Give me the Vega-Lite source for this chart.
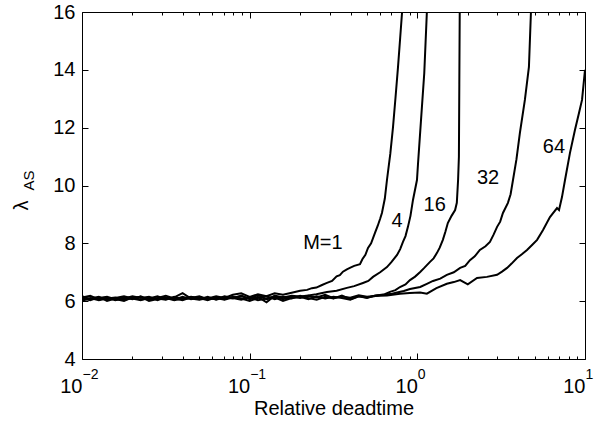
{
  "$schema": "https://vega.github.io/schema/vega-lite/v6.json",
  "width": 503,
  "height": 347,
  "autosize": {"type": "none"},
  "padding": {"left": 82, "top": 12, "right": 25, "bottom": 63},
  "background": "white",
  "config": {
    "view": {"stroke": "black", "strokeWidth": 1},
    "axis": {"grid": false, "domain": false, "labelFont": "Liberation Sans", "titleFont": "Liberation Sans", "labelColor": "black", "titleColor": "black", "tickColor": "black", "tickWidth": 1, "titleFontWeight": "normal", "labelFlush": false, "labelOverlap": false, "labelBound": false},
    "text": {"font": "Liberation Sans"}
  },
  "data": {"values": [
    {"M":"1","x":0.01,"y":6.13},{"M":"1","x":0.0112,"y":6.19},{"M":"1","x":0.0126,"y":6.06},{"M":"1","x":0.0141,"y":6.12},{"M":"1","x":0.0158,"y":6.03},{"M":"1","x":0.0178,"y":6.09},{"M":"1","x":0.02,"y":6.17},{"M":"1","x":0.0224,"y":6.11},{"M":"1","x":0.0251,"y":6.15},{"M":"1","x":0.0282,"y":6.03},{"M":"1","x":0.0316,"y":6.13},{"M":"1","x":0.0355,"y":6.05},{"M":"1","x":0.0398,"y":6.15},{"M":"1","x":0.0447,"y":6.07},{"M":"1","x":0.0501,"y":6.13},{"M":"1","x":0.0562,"y":6.09},{"M":"1","x":0.0631,"y":6.17},{"M":"1","x":0.0708,"y":6.11},{"M":"1","x":0.0794,"y":6.22},{"M":"1","x":0.0891,"y":6.27},{"M":"1","x":0.1,"y":6.15},{"M":"1","x":0.112,"y":6.24},{"M":"1","x":0.126,"y":6.17},{"M":"1","x":0.141,"y":6.27},{"M":"1","x":0.158,"y":6.22},{"M":"1","x":0.178,"y":6.29},{"M":"1","x":0.2,"y":6.36},{"M":"1","x":0.22,"y":6.39},{"M":"1","x":0.235,"y":6.45},{"M":"1","x":0.25,"y":6.47},{"M":"1","x":0.27,"y":6.56},{"M":"1","x":0.289,"y":6.63},{"M":"1","x":0.31,"y":6.7},{"M":"1","x":0.33,"y":6.86},{"M":"1","x":0.345,"y":6.9},{"M":"1","x":0.36,"y":7.02},{"M":"1","x":0.38,"y":7.1},{"M":"1","x":0.396,"y":7.15},{"M":"1","x":0.42,"y":7.22},{"M":"1","x":0.455,"y":7.28},{"M":"1","x":0.47,"y":7.45},{"M":"1","x":0.49,"y":7.6},{"M":"1","x":0.508,"y":7.84},{"M":"1","x":0.53,"y":8.0},{"M":"1","x":0.559,"y":8.36},{"M":"1","x":0.58,"y":8.6},{"M":"1","x":0.6,"y":8.85},{"M":"1","x":0.615,"y":9.05},{"M":"1","x":0.64,"y":9.55},{"M":"1","x":0.659,"y":10.19},{"M":"1","x":0.69,"y":11.1},{"M":"1","x":0.716,"y":12.02},{"M":"1","x":0.74,"y":13.0},{"M":"1","x":0.767,"y":14.1},{"M":"1","x":0.79,"y":15.1},{"M":"1","x":0.811,"y":16.0},

    {"M":"4","x":0.01,"y":6.05},{"M":"4","x":0.0112,"y":6.09},{"M":"4","x":0.0126,"y":6.15},{"M":"4","x":0.0141,"y":6.01},{"M":"4","x":0.0158,"y":6.09},{"M":"4","x":0.0178,"y":6.13},{"M":"4","x":0.02,"y":6.07},{"M":"4","x":0.0224,"y":6.17},{"M":"4","x":0.0251,"y":6.05},{"M":"4","x":0.0282,"y":6.11},{"M":"4","x":0.0316,"y":6.19},{"M":"4","x":0.0355,"y":6.09},{"M":"4","x":0.0398,"y":6.03},{"M":"4","x":0.0447,"y":6.13},{"M":"4","x":0.0501,"y":6.07},{"M":"4","x":0.0562,"y":6.15},{"M":"4","x":0.0631,"y":6.05},{"M":"4","x":0.0708,"y":6.13},{"M":"4","x":0.0794,"y":6.09},{"M":"4","x":0.0891,"y":6.19},{"M":"4","x":0.1,"y":6.07},{"M":"4","x":0.112,"y":6.15},{"M":"4","x":0.126,"y":5.96},{"M":"4","x":0.141,"y":6.19},{"M":"4","x":0.158,"y":6.13},{"M":"4","x":0.178,"y":6.19},{"M":"4","x":0.2,"y":6.16},{"M":"4","x":0.224,"y":6.2},{"M":"4","x":0.25,"y":6.24},{"M":"4","x":0.289,"y":6.32},{"M":"4","x":0.33,"y":6.36},{"M":"4","x":0.38,"y":6.46},{"M":"4","x":0.42,"y":6.52},{"M":"4","x":0.474,"y":6.63},{"M":"4","x":0.51,"y":6.7},{"M":"4","x":0.544,"y":6.84},{"M":"4","x":0.6,"y":7.0},{"M":"4","x":0.659,"y":7.18},{"M":"4","x":0.7,"y":7.35},{"M":"4","x":0.757,"y":7.6},{"M":"4","x":0.79,"y":7.8},{"M":"4","x":0.821,"y":8.05},{"M":"4","x":0.85,"y":8.25},{"M":"4","x":0.879,"y":8.57},{"M":"4","x":0.91,"y":8.95},{"M":"4","x":0.942,"y":9.5},{"M":"4","x":0.995,"y":10.19},{"M":"4","x":1.01,"y":10.78},{"M":"4","x":1.05,"y":12.2},{"M":"4","x":1.1,"y":13.89},{"M":"4","x":1.14,"y":16.0},

    {"M":"16","x":0.01,"y":6.17},{"M":"16","x":0.0112,"y":6.07},{"M":"16","x":0.0126,"y":6.11},{"M":"16","x":0.0141,"y":6.15},{"M":"16","x":0.0158,"y":6.07},{"M":"16","x":0.0178,"y":6.01},{"M":"16","x":0.02,"y":6.13},{"M":"16","x":0.0224,"y":6.05},{"M":"16","x":0.0251,"y":6.09},{"M":"16","x":0.0282,"y":6.17},{"M":"16","x":0.0316,"y":6.07},{"M":"16","x":0.0355,"y":6.13},{"M":"16","x":0.0398,"y":6.28},{"M":"16","x":0.0447,"y":6.09},{"M":"16","x":0.0501,"y":6.05},{"M":"16","x":0.0562,"y":6.11},{"M":"16","x":0.0631,"y":6.07},{"M":"16","x":0.0708,"y":6.17},{"M":"16","x":0.0794,"y":6.11},{"M":"16","x":0.0891,"y":6.05},{"M":"16","x":0.1,"y":6.13},{"M":"16","x":0.112,"y":6.03},{"M":"16","x":0.126,"y":6.09},{"M":"16","x":0.141,"y":6.17},{"M":"16","x":0.158,"y":6.07},{"M":"16","x":0.178,"y":6.15},{"M":"16","x":0.2,"y":6.11},{"M":"16","x":0.224,"y":6.19},{"M":"16","x":0.251,"y":6.13},{"M":"16","x":0.282,"y":6.22},{"M":"16","x":0.316,"y":6.1},{"M":"16","x":0.355,"y":6.16},{"M":"16","x":0.398,"y":6.12},{"M":"16","x":0.447,"y":6.2},{"M":"16","x":0.501,"y":6.15},{"M":"16","x":0.55,"y":6.18},{"M":"16","x":0.598,"y":6.21},{"M":"16","x":0.64,"y":6.24},{"M":"16","x":0.687,"y":6.32},{"M":"16","x":0.74,"y":6.38},{"M":"16","x":0.788,"y":6.49},{"M":"16","x":0.85,"y":6.58},{"M":"16","x":0.904,"y":6.73},{"M":"16","x":0.97,"y":6.85},{"M":"16","x":1.04,"y":7.01},{"M":"16","x":1.1,"y":7.15},{"M":"16","x":1.19,"y":7.36},{"M":"16","x":1.25,"y":7.48},{"M":"16","x":1.31,"y":7.67},{"M":"16","x":1.36,"y":7.85},{"M":"16","x":1.42,"y":8.12},{"M":"16","x":1.47,"y":8.4},{"M":"16","x":1.52,"y":8.7},{"M":"16","x":1.6,"y":8.95},{"M":"16","x":1.68,"y":9.15},{"M":"16","x":1.72,"y":9.4},{"M":"16","x":1.75,"y":10.19},{"M":"16","x":1.77,"y":11.0},{"M":"16","x":1.78,"y":13.5},{"M":"16","x":1.79,"y":16.0},

    {"M":"32","x":0.01,"y":6.01},{"M":"32","x":0.0112,"y":6.11},{"M":"32","x":0.0126,"y":6.03},{"M":"32","x":0.0141,"y":6.09},{"M":"32","x":0.0158,"y":6.13},{"M":"32","x":0.0178,"y":6.05},{"M":"32","x":0.02,"y":6.11},{"M":"32","x":0.0224,"y":6.15},{"M":"32","x":0.0251,"y":6.01},{"M":"32","x":0.0282,"y":6.07},{"M":"32","x":0.0316,"y":6.11},{"M":"32","x":0.0355,"y":6.03},{"M":"32","x":0.0398,"y":6.09},{"M":"32","x":0.0447,"y":6.15},{"M":"32","x":0.0501,"y":6.11},{"M":"32","x":0.0562,"y":6.03},{"M":"32","x":0.0631,"y":6.13},{"M":"32","x":0.0708,"y":6.07},{"M":"32","x":0.0794,"y":6.15},{"M":"32","x":0.0891,"y":6.09},{"M":"32","x":0.1,"y":6.01},{"M":"32","x":0.112,"y":6.11},{"M":"32","x":0.126,"y":6.17},{"M":"32","x":0.141,"y":6.07},{"M":"32","x":0.158,"y":6.15},{"M":"32","x":0.178,"y":6.09},{"M":"32","x":0.2,"y":6.19},{"M":"32","x":0.224,"y":6.11},{"M":"32","x":0.251,"y":6.05},{"M":"32","x":0.282,"y":6.15},{"M":"32","x":0.316,"y":6.09},{"M":"32","x":0.355,"y":6.19},{"M":"32","x":0.398,"y":6.07},{"M":"32","x":0.447,"y":6.17},{"M":"32","x":0.501,"y":6.11},{"M":"32","x":0.562,"y":6.2},{"M":"32","x":0.631,"y":6.22},{"M":"32","x":0.708,"y":6.26},{"M":"32","x":0.757,"y":6.3},{"M":"32","x":0.83,"y":6.35},{"M":"32","x":0.904,"y":6.42},{"M":"32","x":1.04,"y":6.49},{"M":"32","x":1.14,"y":6.6},{"M":"32","x":1.24,"y":6.7},{"M":"32","x":1.37,"y":6.78},{"M":"32","x":1.5,"y":6.91},{"M":"32","x":1.65,"y":7.0},{"M":"32","x":1.8,"y":7.15},{"M":"32","x":1.93,"y":7.22},{"M":"32","x":2.06,"y":7.42},{"M":"32","x":2.2,"y":7.55},{"M":"32","x":2.36,"y":7.77},{"M":"32","x":2.55,"y":7.9},{"M":"32","x":2.71,"y":8.05},{"M":"32","x":2.85,"y":8.3},{"M":"32","x":2.99,"y":8.57},{"M":"32","x":3.12,"y":8.75},{"M":"32","x":3.24,"y":9.05},{"M":"32","x":3.47,"y":9.4},{"M":"32","x":3.6,"y":9.7},{"M":"32","x":3.72,"y":10.19},{"M":"32","x":3.9,"y":10.9},{"M":"32","x":4.09,"y":11.82},{"M":"32","x":4.38,"y":12.96},{"M":"32","x":4.63,"y":14.1},{"M":"32","x":4.76,"y":16.0},

    {"M":"64","x":0.01,"y":6.09},{"M":"64","x":0.0112,"y":6.03},{"M":"64","x":0.0126,"y":6.13},{"M":"64","x":0.0141,"y":6.07},{"M":"64","x":0.0158,"y":6.11},{"M":"64","x":0.0178,"y":6.17},{"M":"64","x":0.02,"y":6.09},{"M":"64","x":0.0224,"y":6.03},{"M":"64","x":0.0251,"y":6.13},{"M":"64","x":0.0282,"y":6.09},{"M":"64","x":0.0316,"y":6.05},{"M":"64","x":0.0355,"y":6.15},{"M":"64","x":0.0398,"y":6.07},{"M":"64","x":0.0447,"y":6.11},{"M":"64","x":0.0501,"y":6.17},{"M":"64","x":0.0562,"y":6.07},{"M":"64","x":0.0631,"y":6.11},{"M":"64","x":0.0708,"y":6.05},{"M":"64","x":0.0794,"y":6.13},{"M":"64","x":0.0891,"y":6.17},{"M":"64","x":0.1,"y":6.09},{"M":"64","x":0.112,"y":6.21},{"M":"64","x":0.126,"y":6.07},{"M":"64","x":0.141,"y":6.13},{"M":"64","x":0.158,"y":6.01},{"M":"64","x":0.178,"y":6.11},{"M":"64","x":0.2,"y":6.15},{"M":"64","x":0.224,"y":6.07},{"M":"64","x":0.251,"y":6.17},{"M":"64","x":0.282,"y":6.09},{"M":"64","x":0.316,"y":6.15},{"M":"64","x":0.355,"y":6.11},{"M":"64","x":0.398,"y":6.05},{"M":"64","x":0.447,"y":6.17},{"M":"64","x":0.501,"y":6.13},{"M":"64","x":0.562,"y":6.18},{"M":"64","x":0.6,"y":6.19},{"M":"64","x":0.659,"y":6.2},{"M":"64","x":0.788,"y":6.26},{"M":"64","x":0.9,"y":6.28},{"M":"64","x":1.04,"y":6.3},{"M":"64","x":1.14,"y":6.26},{"M":"64","x":1.3,"y":6.45},{"M":"64","x":1.5,"y":6.6},{"M":"64","x":1.65,"y":6.66},{"M":"64","x":1.8,"y":6.73},{"M":"64","x":2.0,"y":6.58},{"M":"64","x":2.27,"y":6.8},{"M":"64","x":2.6,"y":6.84},{"M":"64","x":2.99,"y":6.91},{"M":"64","x":3.2,"y":7.02},{"M":"64","x":3.43,"y":7.15},{"M":"64","x":3.65,"y":7.3},{"M":"64","x":3.93,"y":7.49},{"M":"64","x":4.2,"y":7.62},{"M":"64","x":4.51,"y":7.77},{"M":"64","x":4.85,"y":7.95},{"M":"64","x":5.18,"y":8.12},{"M":"64","x":5.62,"y":8.46},{"M":"64","x":6.18,"y":8.91},{"M":"64","x":6.81,"y":9.22},{"M":"64","x":7.0,"y":9.15},{"M":"64","x":7.29,"y":9.6},{"M":"64","x":7.6,"y":10.19},{"M":"64","x":8.13,"y":11.12},{"M":"64","x":8.71,"y":11.92},{"M":"64","x":9.2,"y":12.5},{"M":"64","x":9.6,"y":12.96},{"M":"64","x":10,"y":14.0}
  ]},
  "layer": [
    {
      "mark": {"type": "line", "color": "black", "strokeWidth": 2, "clip": true},
      "encoding": {
        "x": {"field": "x", "type": "quantitative", "scale": {"type": "log", "domain": [0.01, 10], "nice": false},
          "axis": {"orient": "bottom", "values": [0.01, 0.1, 1, 10], "labelExpr": "'10'", "ticks": false, "labelFontSize": 20, "labelAlign": "right", "labelDx": 3, "labelBaseline": "alphabetic", "labelPadding": 33,
            "title": "Relative deadtime", "titleFontSize": 20, "titleBaseline": "alphabetic", "titleY": 55}},
        "y": {"field": "y", "type": "quantitative", "scale": {"domain": [4, 16], "nice": false, "zero": false},
          "axis": {"orient": "left", "values": [4, 6, 8, 10, 12, 14, 16], "ticks": false, "labelFontSize": 20, "labelPadding": 7,
            "title": "λ", "titleFontSize": 20, "titleAngle": 270, "titleBaseline": "alphabetic", "titleAlign": "center", "titleX": -55, "titleY": 193}},
        "detail": {"field": "M"}
      }
    },
    {
      "mark": {"type": "line", "opacity": 0},
      "encoding": {
        "x": {"field": "x", "type": "quantitative",
          "axis": {"orient": "bottom", "values": [0.01, 0.1, 1, 10], "labelExpr": "datum.value < 0.05 ? '−2' : datum.value < 0.5 ? '−1' : datum.value < 5 ? '0' : '1'", "ticks": false, "labelFontSize": 14, "labelAlign": "left", "labelDx": 5, "labelBaseline": "alphabetic", "labelPadding": 19, "title": null}},
        "y": {"field": "y", "type": "quantitative",
          "axis": {"orient": "left", "values": [4], "labels": false, "ticks": false, "title": "AS", "titleFontSize": 15, "titleAngle": 270, "titleBaseline": "alphabetic", "titleAlign": "center", "titleX": -49, "titleY": 168}},
        "detail": {"field": "M"}
      }
    },
    {
      "mark": {"type": "line", "opacity": 0},
      "encoding": {
        "x": {"field": "x", "type": "quantitative",
          "axis": {"orient": "bottom", "values": [0.01, 0.1, 1, 10], "labels": false, "tickSize": -6, "title": null}},
        "y": {"field": "y", "type": "quantitative",
          "axis": {"orient": "left", "values": [4, 6, 8, 10, 12, 14, 16], "labels": false, "tickSize": -6, "title": null}},
        "detail": {"field": "M"}
      }
    },
    {
      "mark": {"type": "line", "opacity": 0},
      "encoding": {
        "x": {"field": "x", "type": "quantitative",
          "axis": {"orient": "top", "values": [0.01, 0.1, 1, 10], "labels": false, "tickSize": -6, "title": null}},
        "y": {"field": "y", "type": "quantitative",
          "axis": {"orient": "right", "values": [4, 6, 8, 10, 12, 14, 16], "labels": false, "tickSize": -6, "title": null}},
        "detail": {"field": "M"}
      }
    },
    {
      "mark": {"type": "line", "opacity": 0},
      "encoding": {
        "x": {"field": "x", "type": "quantitative",
          "axis": {"orient": "bottom", "values": [0.02, 0.03, 0.04, 0.05, 0.06, 0.07, 0.08, 0.09, 0.2, 0.3, 0.4, 0.5, 0.6, 0.7, 0.8, 0.9, 2, 3, 4, 5, 6, 7, 8, 9], "labels": false, "tickSize": -3, "title": null}},
        "y": {"field": "y", "type": "quantitative", "axis": null},
        "detail": {"field": "M"}
      }
    },
    {
      "mark": {"type": "line", "opacity": 0},
      "encoding": {
        "x": {"field": "x", "type": "quantitative",
          "axis": {"orient": "top", "values": [0.02, 0.03, 0.04, 0.05, 0.06, 0.07, 0.08, 0.09, 0.2, 0.3, 0.4, 0.5, 0.6, 0.7, 0.8, 0.9, 2, 3, 4, 5, 6, 7, 8, 9], "labels": false, "tickSize": -3, "title": null}},
        "y": {"field": "y", "type": "quantitative", "axis": null},
        "detail": {"field": "M"}
      }
    },
    {
      "data": {"values": [
        {"label": "M=1", "x": 0.2735, "y": 8.01},
        {"label": "4", "x": 0.757, "y": 8.77},
        {"label": "16", "x": 1.27, "y": 9.33},
        {"label": "32", "x": 2.64, "y": 10.26},
        {"label": "64", "x": 6.53, "y": 11.33}
      ]},
      "mark": {"type": "text", "fontSize": 20, "color": "black", "align": "center", "baseline": "middle", "font": "Liberation Sans"},
      "encoding": {
        "x": {"field": "x", "type": "quantitative", "axis": null},
        "y": {"field": "y", "type": "quantitative", "axis": null},
        "text": {"field": "label"}
      }
    }
  ],
  "resolve": {"axis": {"x": "independent", "y": "independent"}}
}
